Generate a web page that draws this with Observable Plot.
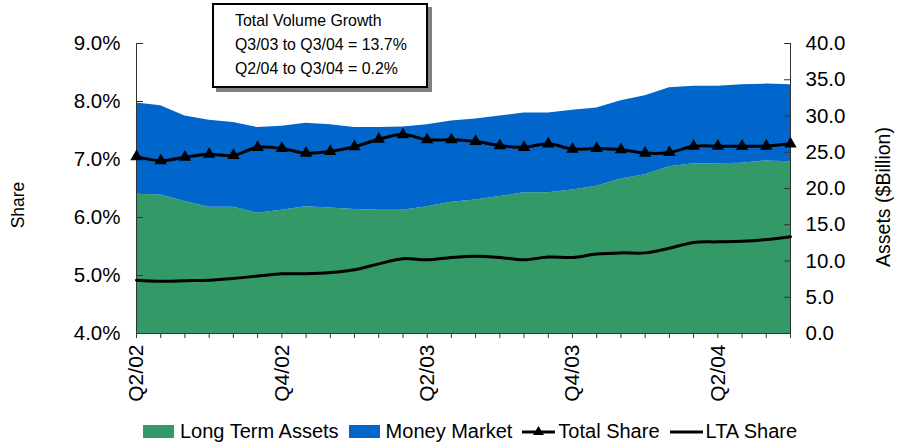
<!DOCTYPE html>
<html><head><meta charset="utf-8">
<script src="https://cdn.jsdelivr.net/npm/d3@7"></script>
<script src="https://cdn.jsdelivr.net/npm/@observablehq/plot@0.6"></script>
<style>
body{margin:0;background:#fff;font-family:"Liberation Sans",Arial,sans-serif;color:#000}
#wrap{position:relative;width:897px;height:445px;overflow:hidden}
#box{position:absolute;left:212px;top:3px;width:191px;height:77px;border:2px solid #000;box-shadow:4px 4px 0 #808080;background:#fff;padding:4px 0 0 21px;box-sizing:content-box;font-size:15.9px;line-height:24px}
#box div{white-space:nowrap}
.rot{position:absolute;white-space:nowrap;transform:translate(-50%,-50%) rotate(-90deg)}
#legend{position:absolute;left:143px;top:419px;display:flex;align-items:center;font-size:20px;line-height:24px;white-space:nowrap}
#legend .it{display:flex;align-items:center;margin-right:10px}
#legend .sw{display:inline-block;width:31px;height:13px;margin-right:6px}
#legend svg{margin-right:3px}
</style></head><body>
<div id="wrap">
<div id="chart"></div>
<div id="box"></div>
<div class="rot" id="ylab" style="left:18px;top:205px;font-size:17.5px"></div>
<div class="rot" id="y2lab" style="left:883px;top:197px;font-size:19.5px"></div>
<div id="legend"></div>
</div>
<script>
const months = ["Jun 02","Jul 02","Aug 02","Sep 02","Oct 02","Nov 02","Dec 02","Jan 03","Feb 03","Mar 03","Apr 03","May 03","Jun 03","Jul 03","Aug 03","Sep 03","Oct 03","Nov 03","Dec 03","Jan 04","Feb 04","Mar 04","Apr 04","May 04","Jun 04","Jul 04","Aug 04","Sep 04"];
const tickIdx = [0, 6, 12, 18, 24];
const tickLabels = ["Q2/02", "Q4/02", "Q2/03", "Q4/03", "Q2/04"];
// $Billion
const longTermAssets = [19.2, 19.1, 18.2, 17.4, 17.4, 16.6, 17.0, 17.5, 17.3, 17.1, 17.0, 17.0, 17.5, 18.1, 18.4, 18.9, 19.4, 19.4, 19.8, 20.3, 21.3, 21.9, 23.0, 23.4, 23.4, 23.5, 23.8, 23.7];
const moneyMarket = [12.6, 12.3, 11.8, 12.0, 11.7, 11.8, 11.6, 11.5, 11.5, 11.3, 11.4, 11.5, 11.3, 11.2, 11.2, 11.1, 11.0, 11.0, 11.0, 10.8, 10.8, 10.9, 10.9, 10.7, 10.7, 10.8, 10.6, 10.6];
// percent
const totalShare = [7.05, 6.98, 7.04, 7.09, 7.07, 7.21, 7.19, 7.11, 7.14, 7.22, 7.35, 7.43, 7.34, 7.34, 7.31, 7.24, 7.21, 7.27, 7.18, 7.19, 7.17, 7.11, 7.12, 7.23, 7.23, 7.23, 7.23, 7.27];
const ltaShare = [4.92, 4.90, 4.91, 4.92, 4.95, 4.99, 5.03, 5.03, 5.05, 5.10, 5.20, 5.29, 5.27, 5.31, 5.33, 5.31, 5.27, 5.32, 5.31, 5.37, 5.39, 5.39, 5.47, 5.57, 5.58, 5.59, 5.62, 5.67];
const shareTicks = [4, 5, 6, 7, 8, 9];
const assetTicks = [0, 5, 10, 15, 20, 25, 30, 35, 40];
const boxLines = ["Total Volume Growth", "Q3/03 to Q3/04 = 13.7%", "Q2/04 to Q3/04 = 0.2%"];
const seriesNames = ["Long Term Assets", "Money Market", "Total Share", "LTA Share"];
const colors = ["#339966", "#0066CC"];

const toShare = b => 4 + b / 8; // map $B (0..40) onto share axis (4..9)
const data = months.map((m, i) => ({i, m, lta: longTermAssets[i], mm: moneyMarket[i], total: totalShare[i], ltaS: ltaShare[i]}));

const chart = Plot.plot({
  width: 897, height: 412,
  marginLeft: 136, marginRight: 107, marginTop: 43, marginBottom: 79,
  style: {fontFamily: '"Liberation Sans", Arial, sans-serif', fontSize: "20px", color: "#000", background: "#fff"},
  x: {domain: [0, 27], axis: null, label: null},
  y: {domain: [4, 9], axis: null, label: null},
  marks: [
    Plot.areaY(data, {x: "i", y1: () => toShare(0), y2: d => toShare(d.lta), fill: colors[0]}),
    Plot.areaY(data, {x: "i", y1: d => toShare(d.lta), y2: d => toShare(d.lta + d.mm), fill: colors[1]}),
    Plot.ruleX([0], {y1: 4, y2: 9, stroke: "#333"}),
    Plot.ruleX([27], {y1: 4, y2: 9, stroke: "#333"}),
    Plot.ruleY([4], {x1: 0, x2: 27, stroke: "#333"}),
    Plot.axisY(shareTicks, {anchor: "left", tickSize: 0, tickPadding: 16, tickFormat: d => d.toFixed(1) + "%", label: null, fontSize: 20.5}),
    Plot.axisY(shareTicks, {anchor: "left", tickSize: 7, dx: 7, tickFormat: () => "", label: null, stroke: "#333"}),
    Plot.axisY(assetTicks.map(toShare), {anchor: "right", tickSize: 0, tickPadding: 15, tickFormat: d => ((d - 4) * 8).toFixed(1), label: null, fontSize: 20.5}),
    Plot.axisY(assetTicks.map(toShare), {anchor: "right", tickSize: 7, dx: -7, tickFormat: () => "", label: null, stroke: "#333"}),
    Plot.axisX(d3.range(months.length), {anchor: "bottom", tickSize: 5, tickFormat: () => "", label: null, stroke: "#333"}),
    Plot.axisX(tickIdx, {anchor: "bottom", tickSize: 0, tickPadding: 11, tickRotate: -90, tickFormat: d => tickLabels[tickIdx.indexOf(d)], label: null, fontSize: 21}),
    Plot.lineY(data, {x: "i", y: "ltaS", stroke: "#000", strokeWidth: 3, curve: "catmull-rom"}),
    Plot.lineY(data, {x: "i", y: "total", stroke: "#000", strokeWidth: 3, curve: "catmull-rom"}),
    Plot.dot(data, {x: "i", y: "total", symbol: "triangle", r: 4.6, fill: "#000", stroke: null})
  ]
});
document.getElementById("chart").appendChild(chart);

const box = document.getElementById("box");
boxLines.forEach(t => { const d = document.createElement("div"); d.textContent = t; box.appendChild(d); });
document.getElementById("ylab").textContent = "Share";
document.getElementById("y2lab").textContent = "Assets ($Billion)";

const legend = document.getElementById("legend");
seriesNames.forEach((name, k) => {
  const it = document.createElement("span"); it.className = "it";
  if (k < 2) {
    const sw = document.createElement("span"); sw.className = "sw"; sw.style.background = colors[k]; it.appendChild(sw);
  } else {
    const ns = "http://www.w3.org/2000/svg";
    const s = document.createElementNS(ns, "svg"); s.setAttribute("width", 33); s.setAttribute("height", 14);
    const l = document.createElementNS(ns, "line");
    l.setAttribute("x1", 0); l.setAttribute("x2", 33); l.setAttribute("y1", 8); l.setAttribute("y2", 8);
    l.setAttribute("stroke", "#000"); l.setAttribute("stroke-width", 3); s.appendChild(l);
    if (k === 2) { const p = document.createElementNS(ns, "path"); p.setAttribute("d", "M16.5,2 L22,11 L11,11 Z"); p.setAttribute("fill", "#000"); s.appendChild(p); }
    it.appendChild(s);
  }
  const tx = document.createElement("span"); tx.textContent = name; it.appendChild(tx);
  legend.appendChild(it);
});
</script>
</body></html>
